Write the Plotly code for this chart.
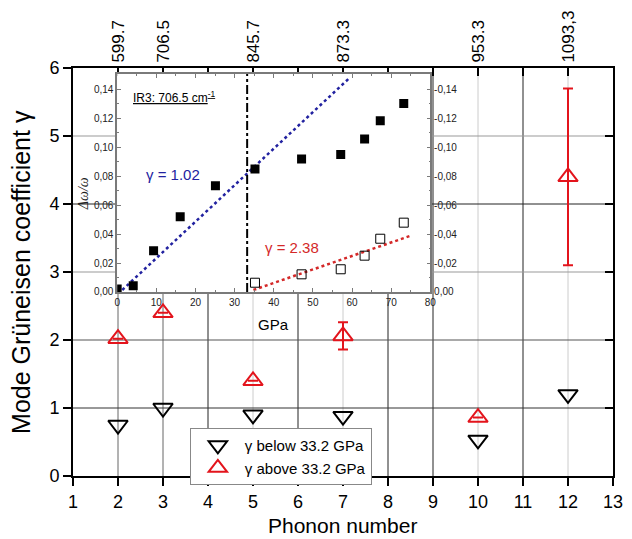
import plotly.graph_objects as go

# ---------------- data (main plot) ----------------
phonon = [2, 3, 5, 7, 10, 12]
freq_labels = ["599.7", "706.5", "845.7", "873.3", "953.3", "1093,3"]
gamma_below = [0.75, 1.0, 0.9, 0.88, 0.53, 1.2]
gamma_above = [2.02, 2.4, 1.4, 2.06, 0.86, 4.4]
gamma_above_err = [None, None, None, 0.2, None, 1.3]

# ---------------- data (inset, IR3 706.5 cm-1) ----------------
p_below = [0, 4.1, 9.3, 16.1, 25.1, 35.2, 47.1, 57.1, 63.2, 67.2, 73.2]
dw_below = [0.002, 0.0044, 0.0285, 0.052, 0.0734, 0.085, 0.0918, 0.095, 0.1057, 0.1183, 0.1303]
p_above = [35.2, 47.1, 57.1, 63.2, 67.2, 73.2]
dw_above = [0.0064, 0.0122, 0.0157, 0.0251, 0.0368, 0.0479]
fit_low_p = [1.3, 59.4]
fit_low_dw = [0.0014, 0.148]
fit_high_p = [34.8, 75.0]
fit_high_dw = [0.0014, 0.0389]
p_transition = 33.2
inset_yticks = [0, 0.02, 0.04, 0.06, 0.08, 0.10, 0.12, 0.14]
inset_ytext_left = ["0,00", "0,02", "0,04", "0,06", "0,08", "0,10", "0,12", "0,14"]
inset_ytext_right = ["0,00", "-0,02", "-0,04", "-0,06", "-0,08", "-0,10", "-0,12", "-0,14"]

RED = "#e3141c"
BLUE = "#2222a0"
FONT = "Arial, Liberation Sans, sans-serif"

fig = go.Figure()

fig.add_trace(go.Scatter(
    x=phonon, y=gamma_below, mode="markers", name="γ below 33.2 GPa",
    marker=dict(symbol="triangle-down-open", size=17, color="black", line=dict(width=2, color="black")),
    xaxis="x", yaxis="y"))
fig.add_trace(go.Scatter(
    x=phonon, y=gamma_above, mode="markers", name="γ above 33.2 GPa",
    marker=dict(symbol="triangle-up-open", size=17, color=RED, line=dict(width=2, color=RED)),
    error_y=dict(type="data", array=gamma_above_err, color=RED, thickness=2, width=5),
    xaxis="x", yaxis="y"))
# invisible trace so that the top / right frame axes are drawn
fig.add_trace(go.Scatter(x=phonon, y=gamma_below, mode="markers", marker=dict(opacity=0),
                         xaxis="x2", yaxis="y2", showlegend=False, hoverinfo="skip"))

# inset traces
fig.add_trace(go.Scatter(x=fit_low_p, y=fit_low_dw, mode="lines",
                         line=dict(color=BLUE, width=2.5, dash="dot"),
                         xaxis="x3", yaxis="y3", showlegend=False))
fig.add_trace(go.Scatter(x=fit_high_p, y=fit_high_dw, mode="lines",
                         line=dict(color="#d42828", width=2.5, dash="dot"),
                         xaxis="x3", yaxis="y3", showlegend=False))
fig.add_trace(go.Scatter(x=p_below, y=dw_below, mode="markers",
                         marker=dict(symbol="square", size=9, color="black"),
                         xaxis="x3", yaxis="y3", showlegend=False))
fig.add_trace(go.Scatter(x=p_above, y=dw_above, mode="markers",
                         marker=dict(symbol="square-open", size=9, color="black", line=dict(width=1, color="black")),
                         xaxis="x3", yaxis="y3", showlegend=False))
fig.add_trace(go.Scatter(x=p_above, y=dw_above, mode="markers", marker=dict(opacity=0),
                         xaxis="x3", yaxis="y4", showlegend=False, hoverinfo="skip"))

# ---------------- grid lines ----------------
vgrid_colors = {2: "#666666", 3: "#666666", 4: "#222222", 5: "#cccccc", 6: "#222222",
                7: "#cccccc", 8: "#222222", 9: "#222222", 10: "#cccccc", 11: "#222222", 12: "#cccccc"}
hgrid_colors = {1: "#333333", 2: "#555555", 3: "#999999", 4: "#222222", 5: "#999999"}
shapes = []
for xv, c in vgrid_colors.items():
    shapes.append(dict(type="line", xref="x", yref="y domain", x0=xv, x1=xv, y0=0, y1=1,
                       line=dict(color=c, width=1), layer="below"))
for yv, c in hgrid_colors.items():
    shapes.append(dict(type="line", xref="x domain", yref="y", x0=0, x1=1, y0=yv, y1=yv,
                       line=dict(color=c, width=1), layer="below"))
# inset background and transition line
shapes.append(dict(type="rect", xref="x3 domain", yref="y3 domain", x0=0, x1=1, y0=0, y1=1,
                   fillcolor="white", line=dict(width=0), layer="below"))
shapes.append(dict(type="line", xref="x3", yref="y3 domain", x0=p_transition, x1=p_transition, y0=0, y1=1,
                   line=dict(color="black", width=2, dash="dashdot")))

annotations = [
    dict(text="Mode Grüneisen coefficient γ", xref="paper", yref="paper", x=-0.0964, y=0.5,
         xanchor="center", yanchor="middle",
         textangle=-90, showarrow=False, font=dict(size=25, family=FONT, color="black")),
    dict(text="Phonon number", xref="paper", yref="paper", x=0.499, y=-0.1225,
         xanchor="center", yanchor="middle",
         showarrow=False, font=dict(size=21, family=FONT, color="black")),
    dict(text="GPa", xref="x3 domain", yref="y3 domain", x=0.5, y=-0.151,
         xanchor="center", yanchor="middle",
         showarrow=False, font=dict(size=15, family=FONT, color="black")),
    dict(text="<i>Δω/ω</i>", xref="x3 domain", yref="y3 domain", x=-0.105, y=0.45,
         xanchor="center", yanchor="middle",
         textangle=-90, showarrow=False, font=dict(size=14, family="Liberation Serif, serif", color="#222")),
    dict(text="<u>IR3: 706.5 cm<sup>-1</sup></u>", xref="x3 domain", yref="y3 domain", x=0.045, y=0.895,
         xanchor="left", yanchor="middle", showarrow=False, font=dict(size=12, family=FONT, color="black")),
    dict(text="γ = 1.02", xref="x3 domain", yref="y3 domain", x=0.179, y=0.537,
         xanchor="center", yanchor="middle",
         showarrow=False, font=dict(size=15, family=FONT, color=BLUE)),
    dict(text="γ = 2.38", xref="x3 domain", yref="y3 domain", x=0.558, y=0.206,
         xanchor="center", yanchor="middle",
         showarrow=False, font=dict(size=15, family=FONT, color="#d42828")),
]

axis_common = dict(showgrid=False, zeroline=False, linecolor="black", linewidth=2,
                   tickcolor="black", tickwidth=2, ticklen=8,
                   tickfont=dict(size=18, family=FONT, color="black"))
inset_common = dict(showgrid=False, zeroline=False, linecolor="#7a7a7a", linewidth=1.5,
                    tickcolor="#7a7a7a", tickwidth=1, ticklen=4, ticks="inside",
                    tickfont=dict(size=10, family=FONT, color="#222"))

fig.update_layout(
    width=632, height=539,
    margin=dict(l=73, r=9, t=68, b=63),
    paper_bgcolor="white", plot_bgcolor="white",
    font=dict(family=FONT, color="black"),
    xaxis=dict(axis_common, range=[1, 13], dtick=1, tick0=1, ticks="outside", showline=True,
               domain=[0, 1], anchor="y"),
    xaxis2=dict(axis_common, range=[1, 13], overlaying="x", side="top", anchor="y2", ticks="inside",
                tickvals=list(range(1, 14)),
                ticktext=[freq_labels[phonon.index(v)] if v in phonon else " " for v in range(1, 14)],
                tickangle=-90, tickfont=dict(size=17, family=FONT, color="black"), showline=True),
    yaxis=dict(axis_common, range=[0, 6], dtick=1, ticks="outside", showline=True,
               domain=[0, 1], anchor="x"),
    yaxis2=dict(axis_common, range=[0, 6], dtick=1, overlaying="y", side="right", anchor="x2",
                ticks="inside", showticklabels=False, showline=True),
    xaxis3=dict(inset_common, domain=[0.0818, 0.6618], anchor="y3", range=[0, 80], dtick=10,
                showline=True, mirror="ticks",
                minor=dict(ticks="inside", ticklen=2, dtick=5, tickcolor="#7a7a7a")),
    yaxis3=dict(inset_common, domain=[0.451, 0.9853], anchor="x3", range=[0, 0.1506],
                tickvals=inset_yticks, ticktext=inset_ytext_left, showline=True,
                minor=dict(ticks="inside", ticklen=2, dtick=0.01, tickcolor="#7a7a7a")),
    yaxis4=dict(inset_common, overlaying="y3", anchor="x3", side="right", range=[0, 0.1506],
                tickvals=inset_yticks, ticktext=inset_ytext_right, showline=True,
                minor=dict(ticks="inside", ticklen=2, dtick=0.01, tickcolor="#7a7a7a")),
    legend=dict(x=0.2164, y=0.1176, xanchor="left", yanchor="top",
                bgcolor="white", bordercolor="#888888", borderwidth=1,
                font=dict(size=15, family=FONT, color="black"), itemwidth=44,
                tracegroupgap=0),
    shapes=shapes,
    annotations=annotations,
)

fig.write_html("out.html", post_script="document.body.style.margin='0';",
               config={"displayModeBar": False})
